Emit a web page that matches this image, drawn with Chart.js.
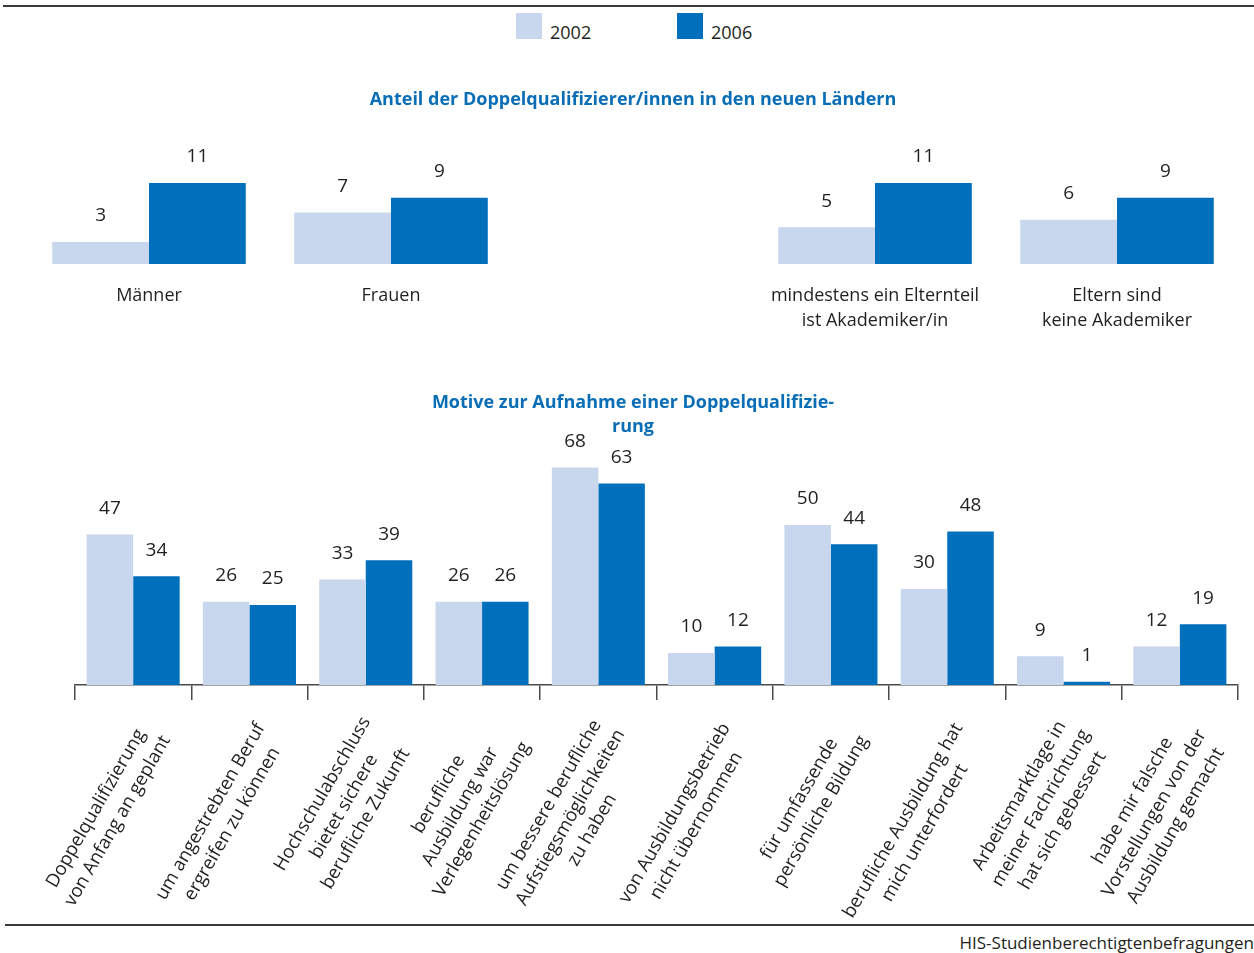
<!DOCTYPE html>
<html lang="de">
<head>
<meta charset="utf-8">
<title>Doppelqualifizierer/innen</title>
<script src="https://cdn.jsdelivr.net/npm/chart.js@4/dist/chart.umd.min.js"></script>
<style>
  html, body { margin: 0; padding: 0; background: #fff; }
  body { width: 1254px; height: 953px; position: relative; overflow: hidden;
         font-family: "Open Sans", sans-serif; color: #231F20; }
  .rule { position: absolute; background: #3a3a3a; }
  .legend-box { position: absolute; top: 13px; width: 26px; height: 26px; }
  .legend-text { position: absolute; top: 19px; font-size: 18px; line-height: 26px; }
  #topWrap { position: absolute; left: 0; top: 60px; width: 1254px; height: 280px; }
  #bottomWrap { position: absolute; left: 0; top: 370px; width: 1254px; height: 560px; }
  .source { position: absolute; right: 0; top: 933px; font-size: 17px; line-height: 20px; white-space: nowrap; }
</style>
</head>
<body>
<div class="rule" style="left:3px; top:5px; width:1251px; height:2px;"></div>

<div class="legend-box" style="left:516px; background:#C8D6EE;"></div>
<div class="legend-text" style="left:550px;">2002</div>
<div class="legend-box" style="left:677px; background:#0070BC;"></div>
<div class="legend-text" style="left:711px;">2006</div>

<div id="topWrap"><canvas id="shareChart"></canvas></div>
<div id="bottomWrap"><canvas id="motiveChart"></canvas></div>

<div class="rule" style="left:5px; top:924px; width:1249px; height:1.5px;"></div>
<div class="source">HIS-Studienberechtigtenbefragungen</div>

<script>
const years = ['2002', '2006'];

// share of double qualifiers, east German states
const groupLabels = ['Männer', 'Frauen', '', ['mindestens ein Elternteil', 'ist Akademiker/in'], ['Eltern sind', 'keine Akademiker']];
const share2002 = [3, 7, null, 5, 6];
const share2006 = [11, 9, null, 11, 9];

// motives
const motiveLabels = [
  ['Doppelqualifizierung', 'von Anfang an geplant'],
  ['um angestrebten Beruf', 'ergreifen zu können'],
  ['Hochschulabschluss', 'bietet sichere', 'berufliche Zukunft'],
  ['berufliche', 'Ausbildung war', 'Verlegenheitslösung'],
  ['um bessere berufliche', 'Aufstiegsmöglichkeiten', 'zu haben'],
  ['von Ausbildungsbetrieb', 'nicht übernommen'],
  ['für umfassende', 'persönliche Bildung'],
  ['berufliche Ausbildung hat', 'mich unterfordert'],
  ['Arbeitsmarktlage in', 'meiner Fachrichtung', 'hat sich gebessert'],
  ['habe mir falsche', 'Vorstellungen von der', 'Ausbildung gemacht']
];
const motive2002 = [47, 26, 33, 26, 68, 10, 50, 30, 9, 12];
const motive2006 = [34, 25, 39, 26, 63, 12, 44, 48, 1, 19];

const FONT = '"Open Sans", sans-serif';
const TEXT = '#231F20';
const TITLE_BLUE = '#0A6EB6';
const LIGHT = '#C8D6EE';
const DARK = '#0070BC';

// numbers above every bar
const valueLabels = {
  id: 'valueLabels',
  afterDatasetsDraw(chart) {
    const ctx = chart.ctx;
    ctx.save();
    ctx.font = '19px ' + FONT;
    ctx.fillStyle = TEXT;
    ctx.textAlign = 'center';
    ctx.textBaseline = 'middle';
    chart.data.datasets.forEach((ds, d) => {
      chart.getDatasetMeta(d).data.forEach((bar, i) => {
        const v = ds.data[i];
        if (v == null) return;
        ctx.fillText(String(v), bar.x, bar.y - 26);
      });
    });
    ctx.restore();
  }
};

// slanted, centred multi-line category labels under the motive chart;
// the end of the longest line sits a little right of the category centre
const slantedLabels = {
  id: 'slantedLabels',
  afterDraw(chart) {
    const ctx = chart.ctx;
    const xs = chart.scales.x;
    const lh = 25;
    ctx.save();
    ctx.font = '18.5px ' + FONT;
    ctx.fillStyle = TEXT;
    ctx.textAlign = 'center';
    ctx.textBaseline = 'middle';
    chart.data.labels.forEach((lines, i) => {
      const w = Math.max(...lines.map(t => ctx.measureText(t).width));
      const x = xs.getPixelForValue(i) + 22;
      const y = xs.top + 46;
      ctx.save();
      ctx.translate(x, y);
      ctx.rotate(-Math.PI / 3);
      lines.forEach((t, k) => {
        ctx.fillText(t, -w / 2, (k - (lines.length - 1) / 2) * lh);
      });
      ctx.restore();
    });
    ctx.restore();
  }
};

const barSets = (a, b) => [
  { label: years[0], data: a, backgroundColor: LIGHT, borderWidth: 0, categoryPercentage: 0.8, barPercentage: 1 },
  { label: years[1], data: b, backgroundColor: DARK, borderWidth: 0, categoryPercentage: 0.8, barPercentage: 1 }
];

new Chart(document.getElementById('shareChart'), {
  type: 'bar',
  data: { labels: groupLabels, datasets: barSets(share2002, share2006) },
  plugins: [valueLabels],
  options: {
    responsive: true,
    maintainAspectRatio: false,
    animation: false,
    events: [],
    layout: { padding: { left: 28, right: 16, top: 0, bottom: 9 } },
    plugins: {
      legend: { display: false },
      tooltip: { enabled: false },
      title: {
        display: true,
        text: 'Anteil der Doppelqualifizierer/innen in den neuen Ländern',
        color: TITLE_BLUE,
        font: { family: FONT, size: 18, weight: 'bold', lineHeight: 1.2 },
        padding: { top: 29, bottom: 18 }
      }
    },
    scales: {
      x: {
        grid: { display: false, drawTicks: false },
        border: { display: false },
        ticks: {
          color: TEXT, padding: 19, autoSkip: false, maxRotation: 0,
          font: { family: FONT, size: 18, lineHeight: 25 / 18 }
        },
        afterFit(s) { s.height = 67; }
      },
      y: { display: false, min: 0, max: 18.4 }
    }
  }
});

new Chart(document.getElementById('motiveChart'), {
  type: 'bar',
  data: { labels: motiveLabels, datasets: barSets(motive2002, motive2006) },
  plugins: [valueLabels, slantedLabels],
  options: {
    responsive: true,
    maintainAspectRatio: false,
    animation: false,
    events: [],
    layout: { padding: { left: 28, right: 16, top: 0, bottom: 0 } },
    plugins: {
      legend: { display: false },
      tooltip: { enabled: false },
      title: {
        display: true,
        text: ['Motive zur Aufnahme einer Doppelqualifizie-', 'rung'],
        color: TITLE_BLUE,
        font: { family: FONT, size: 18, weight: 'bold', lineHeight: 24 / 18 },
        padding: { top: 21, bottom: 6 }
      }
    },
    scales: {
      x: {
        offset: true,
        grid: { display: true, drawOnChartArea: false, drawTicks: true, tickLength: 15, color: '#4a4a4a', lineWidth: 1.5, offset: true },
        border: { display: true, color: '#4a4a4a', width: 1.5 },
        ticks: { display: false },
        afterFit(s) { s.height = 245; }
      },
      y: {
        min: 0, max: 75,
        grid: { display: false },
        border: { display: false },
        ticks: { display: false },
        afterFit(s) { s.width = 47; }
      }
    }
  }
});
</script>
</body>
</html>
